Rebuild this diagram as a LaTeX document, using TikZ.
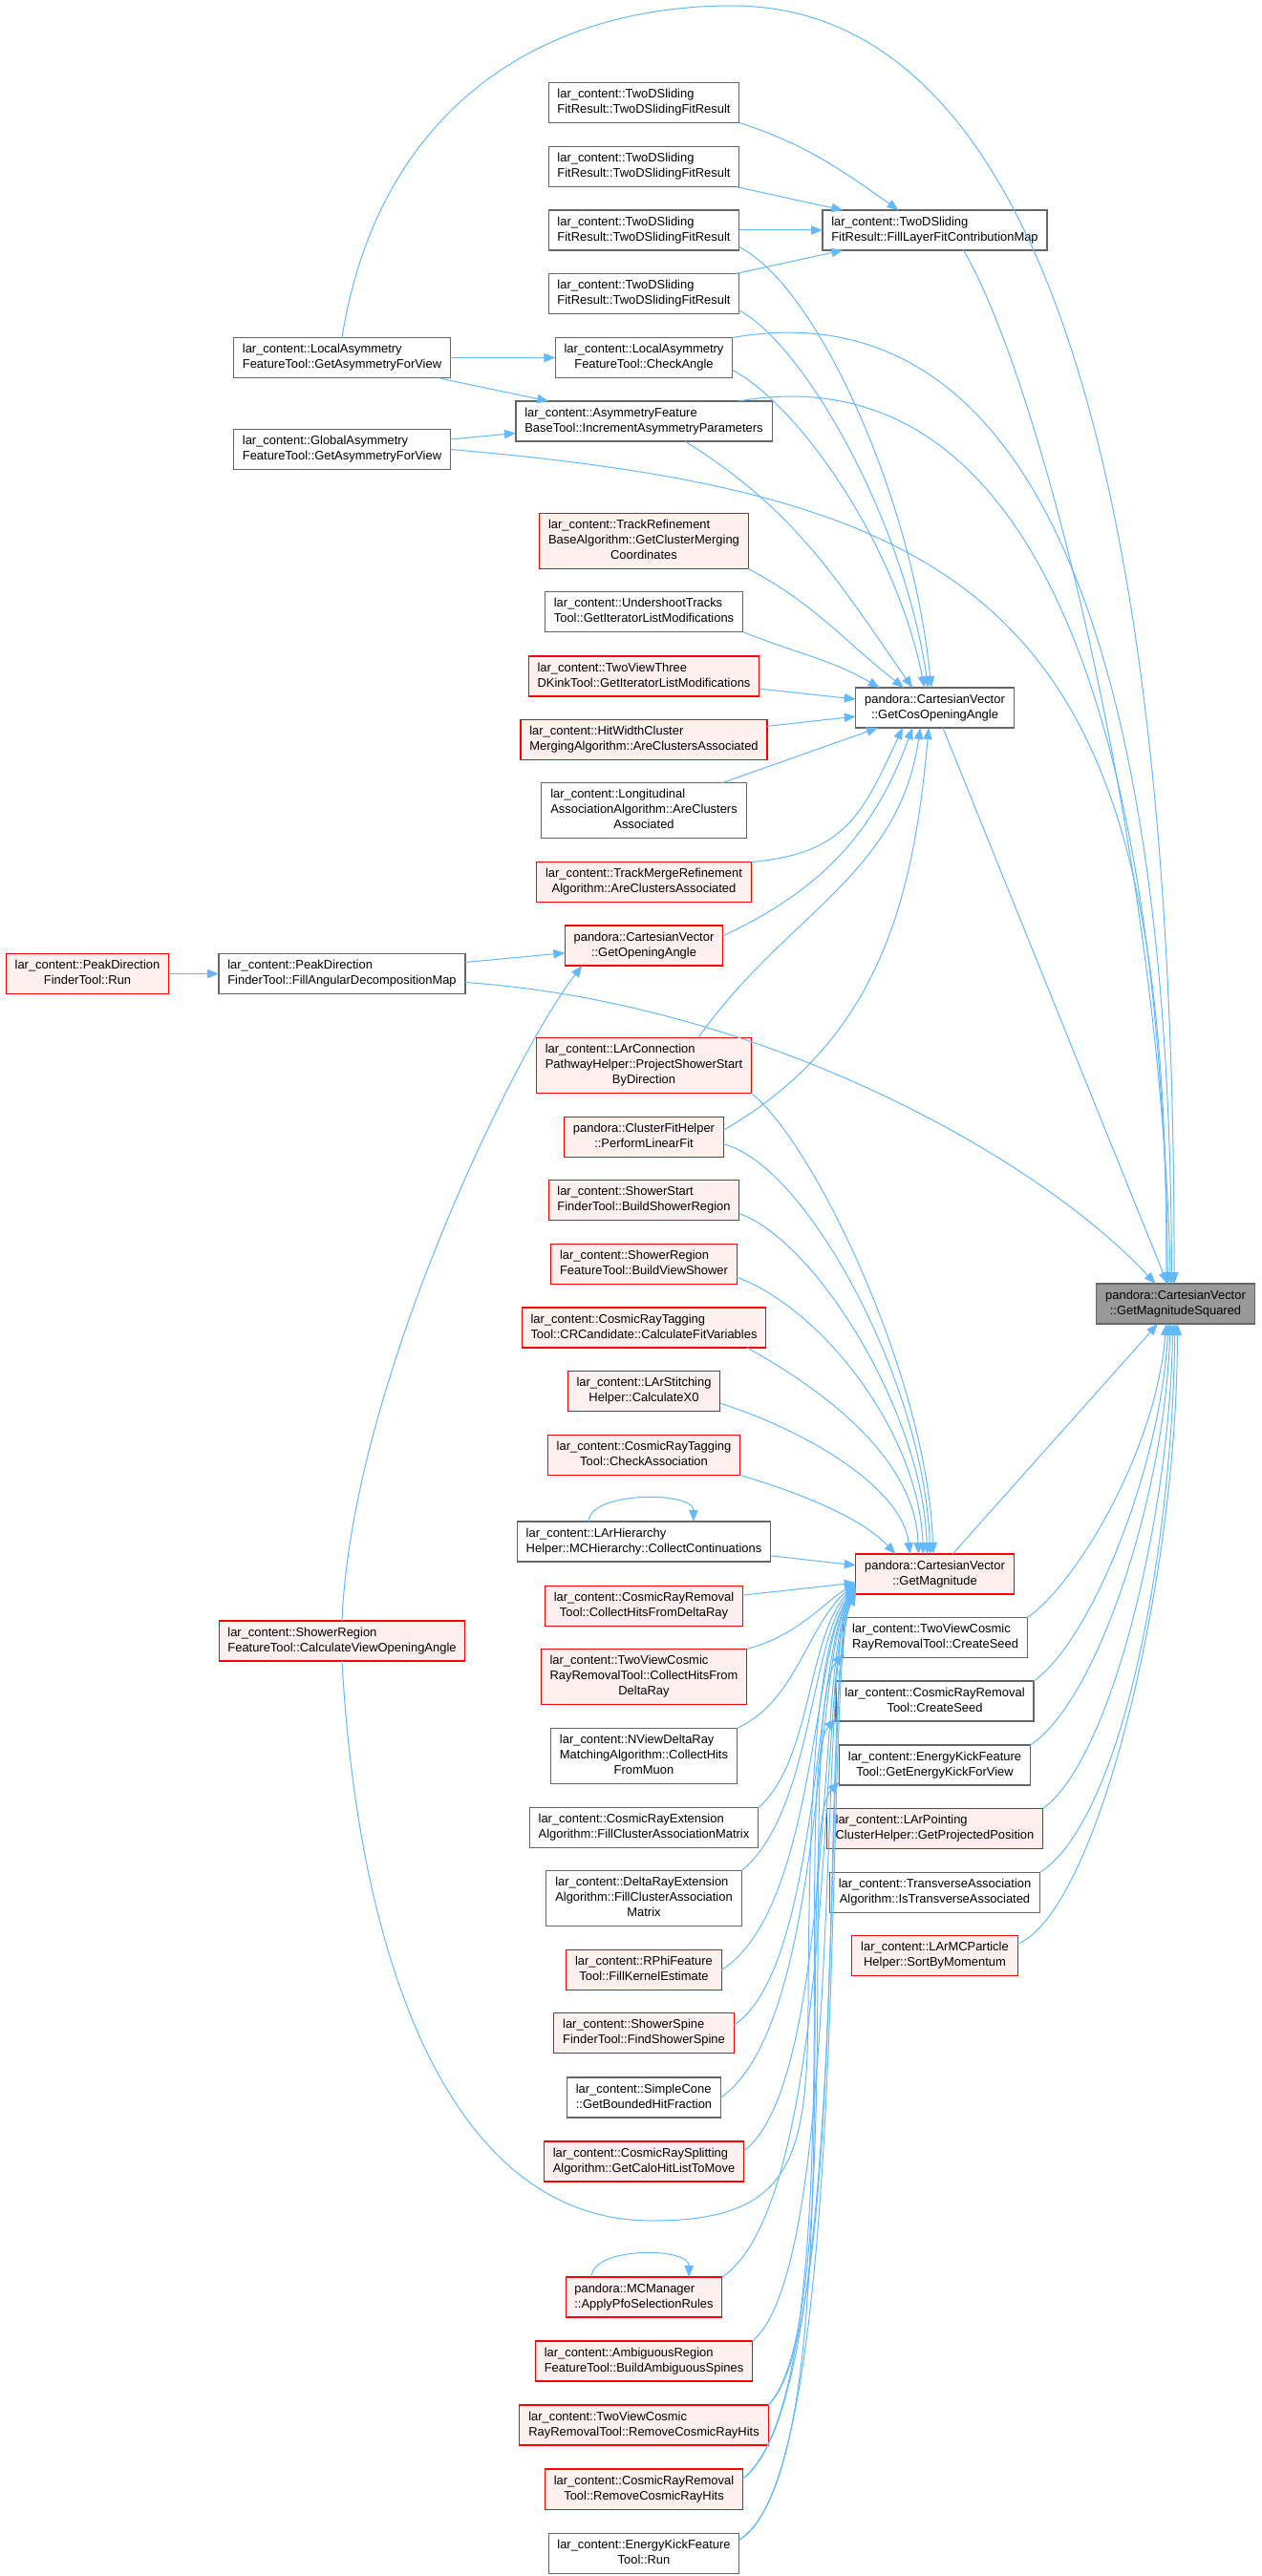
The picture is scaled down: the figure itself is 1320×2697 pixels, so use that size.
\documentclass[tikz,border=0pt]{standalone}
\usepackage{fontspec}
\setmainfont{Liberation Sans}
\usetikzlibrary{arrows.meta}

\definecolor{boxgray}{HTML}{666666}
\definecolor{boxred}{HTML}{FF0000}
\definecolor{redfill}{HTML}{FFF0F0}
\definecolor{rootfill}{HTML}{999999}
\definecolor{calledge}{HTML}{63B8FF}

\newcommand{\callname}[2]{\begin{tabular}{@{}l@{}}#1\\\multicolumn{1}{@{}c@{}}{#2}\end{tabular}}

\begin{document}
\begin{tikzpicture}[x=0.75pt,y=0.75pt,
    func/.style={draw=boxgray,fill=white,line width=0.8pt,inner xsep=7pt,inner ysep=3.75pt,outer sep=0pt,font=\fontsize{9.7}{12}\selectfont},
    funcred/.style={func,draw=boxred,fill=redfill},
    funcroot/.style={func,fill=rootfill},
    call/.style={color=calledge,line width=0.75pt,-{Triangle[length=9pt,width=7pt]}}]

  \useasboundingbox (0,0) rectangle (1320,-2697);

  \node[func]     (twodA)           at (674,-107.5)    {\callname{lar\_content::TwoDSliding}{FitResult::TwoDSlidingFitResult}};
  \node[func]     (twodB)           at (674,-174.5)    {\callname{lar\_content::TwoDSliding}{FitResult::TwoDSlidingFitResult}};
  \node[func]     (twodC)           at (674,-241)      {\callname{lar\_content::TwoDSliding}{FitResult::TwoDSlidingFitResult}};
  \node[func]     (twodD)           at (674,-307.5)    {\callname{lar\_content::TwoDSliding}{FitResult::TwoDSlidingFitResult}};
  \node[func]     (fillLayer)       at (978.5,-241)    {\callname{lar\_content::TwoDSliding}{FitResult::FillLayerFitContributionMap}};
  \node[func]     (localAsymView)   at (358,-374.5)    {\callname{lar\_content::LocalAsymmetry}{FeatureTool::GetAsymmetryForView}};
  \node[func]     (checkAngle)      at (674,-374.5)    {\callname{lar\_content::LocalAsymmetry}{FeatureTool::CheckAngle}};
  \node[func]     (incAsym)         at (674,-441)      {\callname{lar\_content::AsymmetryFeature}{BaseTool::IncrementAsymmetryParameters}};
  \node[func]     (globalAsymView)  at (358,-470.5)    {\callname{lar\_content::GlobalAsymmetry}{FeatureTool::GetAsymmetryForView}};
  \node[funcred]  (trackRefine)     at (674,-566.5)    {\callname{lar\_content::TrackRefinement\\BaseAlgorithm::GetClusterMerging}{Coordinates}};
  \node[func]     (undershoot)      at (674,-640.5)    {\callname{lar\_content::UndershootTracks}{Tool::GetIteratorListModifications}};
  \node[funcred]  (twoViewThree)    at (674,-708)      {\callname{lar\_content::TwoViewThree}{DKinkTool::GetIteratorListModifications}};
  \node[funcred]  (hitWidth)        at (674,-774.5)    {\callname{lar\_content::HitWidthCluster}{MergingAlgorithm::AreClustersAssociated}};
  \node[func]     (longitudinal)    at (674,-848.5)    {\callname{lar\_content::Longitudinal\\AssociationAlgorithm::AreClusters}{Associated}};
  \node[funcred]  (trackMerge)      at (674,-923.5)    {\callname{lar\_content::TrackMergeRefinement}{Algorithm::AreClustersAssociated}};
  \node[funcred]  (getOpening)      at (674,-990)      {\callname{pandora::CartesianVector}{::GetOpeningAngle}};
  \node[func]     (getCosOpening)   at (978.5,-741)    {\callname{pandora::CartesianVector}{::GetCosOpeningAngle}};
  \node[funcred]  (peakRun)         at (91.5,-1019.5)  {\callname{lar\_content::PeakDirection}{FinderTool::Run}};
  \node[func]     (fillAngular)     at (358,-1019.5)   {\callname{lar\_content::PeakDirection}{FinderTool::FillAngularDecompositionMap}};
  \node[funcred]  (larConnection)   at (674,-1115.5)   {\callname{lar\_content::LArConnection\\PathwayHelper::ProjectShowerStart}{ByDirection}};
  \node[funcred]  (clusterFit)      at (674,-1190.5)   {\callname{pandora::ClusterFitHelper}{::PerformLinearFit}};
  \node[funcred]  (showerStart)     at (674,-1256.5)   {\callname{lar\_content::ShowerStart}{FinderTool::BuildShowerRegion}};
  \node[funcred]  (buildViewShower) at (674,-1323.5)   {\callname{lar\_content::ShowerRegion}{FeatureTool::BuildViewShower}};
  \node[funcred]  (crCandidate)     at (674,-1390)     {\callname{lar\_content::CosmicRayTagging}{Tool::CRCandidate::CalculateFitVariables}};
  \node[funcred]  (larStitching)    at (674,-1456.5)   {\callname{lar\_content::LArStitching}{Helper::CalculateX0}};
  \node[funcred]  (checkAssoc)      at (674,-1523.5)   {\callname{lar\_content::CosmicRayTagging}{Tool::CheckAssociation}};
  \node[funcroot] (gms)             at (1230.5,-1365)  {\callname{pandora::CartesianVector}{::GetMagnitudeSquared}};
  \node[func]     (larHierarchy)    at (674,-1614)     {\callname{lar\_content::LArHierarchy}{Helper::MCHierarchy::CollectContinuations}};
  \node[funcred]  (getMag)          at (978.5,-1648)   {\callname{pandora::CartesianVector}{::GetMagnitude}};
  \node[funcred]  (crRemCollect)    at (674,-1681.5)   {\callname{lar\_content::CosmicRayRemoval}{Tool::CollectHitsFromDeltaRay}};
  \node[funcred]  (calcViewOpening) at (358,-1718)     {\callname{lar\_content::ShowerRegion}{FeatureTool::CalculateViewOpeningAngle}};
  \node[funcred]  (twoViewCollect)  at (674,-1755.5)   {\callname{lar\_content::TwoViewCosmic\\RayRemovalTool::CollectHitsFrom}{DeltaRay}};
  \node[func]     (twoViewSeed)     at (979,-1714.5)   {\callname{lar\_content::TwoViewCosmic}{RayRemovalTool::CreateSeed}};
  \node[func]     (crRemSeed)       at (978.5,-1781)   {\callname{lar\_content::CosmicRayRemoval}{Tool::CreateSeed}};
  \node[func]     (energyKickView)  at (978.5,-1848)   {\callname{lar\_content::EnergyKickFeature}{Tool::GetEnergyKickForView}};
  \node[funcred]  (larPointing)     at (978.5,-1914.5) {\callname{lar\_content::LArPointing}{ClusterHelper::GetProjectedPosition}};
  \node[func]     (transverse)      at (978.5,-1981.5) {\callname{lar\_content::TransverseAssociation}{Algorithm::IsTransverseAssociated}};
  \node[funcred]  (larMCParticle)   at (978.5,-2047.5) {\callname{lar\_content::LArMCParticle}{Helper::SortByMomentum}};
  \node[func]     (nViewDelta)      at (674,-1838.5)   {\callname{lar\_content::NViewDeltaRay\\MatchingAlgorithm::CollectHits}{FromMuon}};
  \node[func]     (crExtension)     at (674,-1913.5)   {\callname{lar\_content::CosmicRayExtension}{Algorithm::FillClusterAssociationMatrix}};
  \node[func]     (deltaRayExt)     at (674,-1987.5)   {\callname{lar\_content::DeltaRayExtension\\Algorithm::FillClusterAssociation}{Matrix}};
  \node[funcred]  (rPhi)            at (674,-2062.5)   {\callname{lar\_content::RPhiFeature}{Tool::FillKernelEstimate}};
  \node[funcred]  (showerSpine)     at (674,-2128.5)   {\callname{lar\_content::ShowerSpine}{FinderTool::FindShowerSpine}};
  \node[func]     (simpleCone)      at (674,-2196)     {\callname{lar\_content::SimpleCone}{::GetBoundedHitFraction}};
  \node[funcred]  (crSplitting)     at (674,-2263)     {\callname{lar\_content::CosmicRaySplitting}{Algorithm::GetCaloHitListToMove}};
  \node[funcred]  (mcManager)       at (674,-2405)     {\callname{pandora::MCManager}{::ApplyPfoSelectionRules}};
  \node[funcred]  (ambiguous)       at (674,-2472)     {\callname{lar\_content::AmbiguousRegion}{FeatureTool::BuildAmbiguousSpines}};
  \node[funcred]  (twoViewRemove)   at (674,-2539)     {\callname{lar\_content::TwoViewCosmic}{RayRemovalTool::RemoveCosmicRayHits}};
  \node[funcred]  (crRemRemove)     at (674,-2606)     {\callname{lar\_content::CosmicRayRemoval}{Tool::RemoveCosmicRayHits}};
  \node[func]     (energyKickRun)   at (674,-2673)     {\callname{lar\_content::EnergyKickFeature}{Tool::Run}};

  \path[call]
            (twodB) edge (fillLayer)
            (twodC) edge (fillLayer)
            (twodD) edge (fillLayer)
            (localAsymView) edge (checkAngle)
                            edge (incAsym)
            (globalAsymView) edge (incAsym)
            (peakRun) edge (fillAngular)
            (fillAngular) edge (getOpening)
            (twoViewThree) edge (getCosOpening)
            (hitWidth) edge (getCosOpening)
            (longitudinal) edge (getCosOpening)
            (getCosOpening) edge (gms)
            (larHierarchy) edge (getMag)
            (crRemCollect) edge (getMag)
            (getMag) edge (gms);

  \path[call]
            (twodA.south east) edge [out=-18,in=145] (fillLayer.151)
            (undershoot.south east) edge [out=-22,in=150] (getCosOpening.160)
            (trackRefine.south east) edge [out=-28,in=142] (getCosOpening.147)
            (incAsym.-26) edge [out=-32,in=125] (getCosOpening.138)
            (trackMerge.north east) edge [out=5,in=245,looseness=1.2] (getCosOpening.212)
            (getOpening.7) edge [out=25,in=250] (getCosOpening.222)
            (larConnection.27) edge [out=55,in=262] (getCosOpening.234);

  \draw[call] (clusterFit.5) .. controls (918,-1090) and (956,-946) .. (getCosOpening.253);
  \draw[call] (twodC.-10) .. controls (855,-300) and (955,-520) .. (getCosOpening.100);
  \draw[call] (twodD.-10) .. controls (840,-360) and (945,-540) .. (getCosOpening.108);
  \draw[call] (checkAngle.-8) .. controls (830,-420) and (935,-560) .. (getCosOpening.117);

  \draw[call] (localAsymView.north) .. controls (395,-120) and (560,-6) .. (766,-6)
              .. controls (1060,-6) and (1230,-420) .. (gms.94);
  \draw[call] (checkAngle.north east) .. controls (1070,-300) and (1225,-650) .. (gms.101);
  \draw[call] (fillLayer.-35) .. controls (1090,-400) and (1215,-900) .. (gms.104);
  \draw[call] (incAsym.12) .. controls (1060,-370) and (1215,-700) .. (gms.111);
  \draw[call] (globalAsymView.east) .. controls (1045,-520) and (1225,-650) .. (gms.115);
  \draw[call] (fillAngular.-4) .. controls (796,-1050) and (1085,-1210) .. (gms.135);

  \draw[call] (calcViewOpening.north) .. controls (368,-1450) and (540,-1100) .. (getOpening.198);
  \draw[call] (calcViewOpening.south) .. controls (375,-2050) and (470,-2325) .. (682,-2325)
              .. controls (830,-2325) and (845,-2260) .. (846,-2100)
              .. controls (847,-1900) and (852,-1720) .. (getMag.190);

  \draw[call] (larConnection.south east) .. controls (855,-1200) and (972,-1450) .. (getMag.95);
  \draw[call] (clusterFit.-5) .. controls (845,-1220) and (968,-1450) .. (getMag.103);
  \draw[call] (showerStart.-8) .. controls (855,-1300) and (966,-1480) .. (getMag.111);
  \draw[call] (buildViewShower.-8) .. controls (860,-1370) and (962,-1500) .. (getMag.120);
  \draw[call] (crCandidate.-11) .. controls (870,-1460) and (958,-1530) .. (getMag.129);
  \draw[call] (larStitching.-9) .. controls (850,-1500) and (945,-1560) .. (getMag.141);
  \draw[call] (checkAssoc.south east) .. controls (845,-1565) and (905,-1592) .. (getMag.153);

  \draw[call] (twoViewCollect.north east) .. controls (835,-1712) and (860,-1680) .. (getMag.186);
  \draw[call] (nViewDelta.north east) .. controls (835,-1780) and (845,-1700) .. (getMag.187);
  \draw[call] (crExtension.north east) .. controls (850,-1845) and (845,-1710) .. (getMag.188);
  \draw[call] (deltaRayExt.north east) .. controls (850,-1900) and (848,-1715) .. (getMag.189);
  \draw[call] (rPhi.east) .. controls (855,-2000) and (850,-1720) .. (getMag.190);
  \draw[call] (showerSpine.5) .. controls (860,-2060) and (852,-1722) .. (getMag.191);
  \draw[call] (simpleCone.east) .. controls (865,-2120) and (852,-1725) .. (getMag.191);
  \draw[call] (crSplitting.6) .. controls (875,-2180) and (855,-1725) .. (getMag.192);
  \draw[call] (mcManager.north east) .. controls (880,-2300) and (855,-1730) .. (getMag.192);
  \draw[call] (ambiguous.north east) .. controls (885,-2370) and (855,-1730) .. (getMag.193);
  \draw[call] (twoViewRemove.north east) .. controls (890,-2440) and (858,-1735) .. (getMag.193);
  \draw[call] (crRemRemove.6) .. controls (895,-2510) and (858,-1735) .. (getMag.194);
  \draw[call] (energyKickRun.8) .. controls (895,-2590) and (860,-1740) .. (getMag.194);

  \draw[call] (twoViewRemove.north east) .. controls (890,-2430) and (832,-1790) .. (twoViewSeed.190);
  \draw[call] (crRemRemove.6) .. controls (895,-2500) and (828,-1850) .. (crRemSeed.190);
  \draw[call] (energyKickRun.8) .. controls (895,-2580) and (828,-1915) .. (energyKickView.190);

  \draw[call] (twoViewSeed.north east) .. controls (1125,-1660) and (1210,-1520) .. (gms.245);
  \draw[call] (crRemSeed.north east) .. controls (1140,-1720) and (1215,-1540) .. (gms.250);
  \draw[call] (energyKickView.north east) .. controls (1150,-1780) and (1220,-1560) .. (gms.255);
  \draw[call] (larPointing.north east) .. controls (1165,-1840) and (1225,-1580) .. (gms.262);
  \draw[call] (transverse.north east) .. controls (1180,-1900) and (1228,-1600) .. (gms.268);
  \draw[call] (larMCParticle.8) .. controls (1150,-2000) and (1233,-1650) .. (gms.275);

  \draw[call] (larHierarchy.160) .. controls +(0,32) and +(0,32) .. (larHierarchy.22);
  \draw[call] (mcManager.159) .. controls +(0,32) and +(0,32) .. (mcManager.24);
\end{tikzpicture}
\end{document}
